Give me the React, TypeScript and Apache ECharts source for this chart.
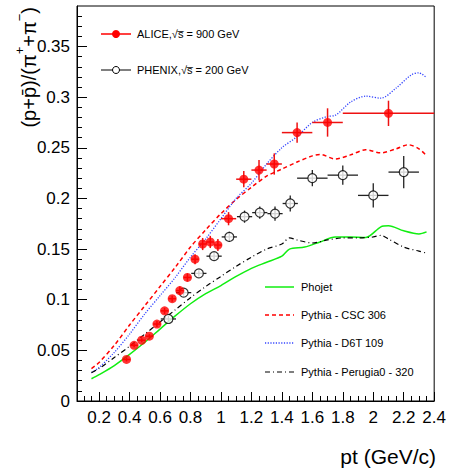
import React, { useEffect, useRef } from "react";
import * as echarts from "echarts";

// ---------- data ----------
const aliceX = [0.38, 0.43, 0.48, 0.53, 0.58, 0.63, 0.68, 0.73, 0.78, 0.83, 0.88, 0.93, 0.98, 1.05, 1.15, 1.25, 1.35, 1.5, 1.7, 2.1];
const aliceY = [0.041, 0.055, 0.06, 0.064, 0.076, 0.089, 0.101, 0.109, 0.122, 0.14, 0.155, 0.157, 0.154, 0.18, 0.219, 0.228, 0.234, 0.265, 0.275, 0.284];
const aliceXErr = [0.025, 0.025, 0.025, 0.025, 0.025, 0.025, 0.025, 0.025, 0.025, 0.025, 0.025, 0.025, 0.025, 0.05, 0.05, 0.05, 0.05, 0.1, 0.1, 0.3];
const aliceYErr = [0.002, 0.002, 0.002, 0.002, 0.003, 0.003, 0.003, 0.004, 0.004, 0.005, 0.006, 0.006, 0.006, 0.0065, 0.008, 0.01, 0.0105, 0.01, 0.014, 0.0125];

const phenixX = [0.655, 0.755, 0.855, 0.955, 1.055, 1.155, 1.255, 1.355, 1.455, 1.6, 1.8, 2.0, 2.2];
const phenixY = [0.081, 0.107, 0.126, 0.143, 0.162, 0.182, 0.186, 0.185, 0.195, 0.22, 0.223, 0.203, 0.226];
const phenixXErr = [0.05, 0.05, 0.05, 0.05, 0.05, 0.05, 0.05, 0.05, 0.05, 0.1, 0.1, 0.1, 0.1];
const phenixYErr = [0.003, 0.003, 0.003, 0.004, 0.005, 0.006, 0.006, 0.007, 0.008, 0.008, 0.0095, 0.012, 0.016];

const phojetX = [0.15, 0.2, 0.3, 0.4, 0.5, 0.6, 0.7, 0.8, 0.9, 1.0, 1.1, 1.2, 1.3, 1.4, 1.45, 1.55, 1.65, 1.75, 1.85, 1.95, 2.05, 2.1, 2.2, 2.3, 2.35];
const phojetY = [0.022, 0.026, 0.035, 0.046, 0.058, 0.071, 0.084, 0.096, 0.106, 0.114, 0.123, 0.131, 0.137, 0.143, 0.15, 0.152, 0.157, 0.162, 0.162, 0.1615, 0.172, 0.173, 0.168, 0.165, 0.167];

const cscX = [0.15, 0.2, 0.3, 0.4, 0.5, 0.6, 0.7, 0.8, 0.9, 1.0, 1.1, 1.2, 1.3, 1.4, 1.5, 1.6, 1.65, 1.75, 1.85, 1.95, 2.05, 2.15, 2.23, 2.3, 2.35];
const cscY = [0.032, 0.038, 0.055, 0.075, 0.094, 0.113, 0.132, 0.152, 0.169, 0.185, 0.199, 0.211, 0.222, 0.229, 0.236, 0.242, 0.2435, 0.239, 0.243, 0.248, 0.245, 0.249, 0.253, 0.249, 0.242];

const d6tX = [0.15, 0.2, 0.3, 0.4, 0.5, 0.6, 0.7, 0.8, 0.9, 1.0, 1.1, 1.2, 1.3, 1.4, 1.5, 1.6, 1.7, 1.75, 1.85, 1.95, 2.05, 2.15, 2.25, 2.3, 2.35];
const d6tY = [0.028, 0.033, 0.048, 0.066, 0.086, 0.104, 0.122, 0.142, 0.16, 0.18, 0.2, 0.215, 0.234, 0.25, 0.261, 0.275, 0.281, 0.282, 0.295, 0.301, 0.299, 0.309, 0.322, 0.324, 0.319];

const perugiaX = [0.15, 0.2, 0.3, 0.4, 0.5, 0.6, 0.7, 0.8, 0.9, 1.0, 1.1, 1.2, 1.3, 1.4, 1.45, 1.5, 1.6, 1.7, 1.8, 1.9, 2.0, 2.05, 2.1, 2.2, 2.3, 2.35];
const perugiaY = [0.028, 0.032, 0.043, 0.054, 0.066, 0.078, 0.09, 0.102, 0.113, 0.123, 0.133, 0.142, 0.15, 0.155, 0.161, 0.159, 0.156, 0.159, 0.161, 0.161, 0.162, 0.1635, 0.16, 0.152, 0.148, 0.146];

const xMajorTicks = [0.2, 0.4, 0.6, 0.8, 1, 1.2, 1.4, 1.6, 1.8, 2, 2.2, 2.4];
const xMinorTicks = [0.1, 0.15, 0.25, 0.3, 0.35, 0.45, 0.5, 0.55, 0.65, 0.7, 0.75, 0.85, 0.9, 0.95, 1.05, 1.1, 1.15, 1.25, 1.3, 1.35, 1.45, 1.5, 1.55, 1.65, 1.7, 1.75, 1.85, 1.9, 1.95, 2.05, 2.1, 2.15, 2.25, 2.3, 2.35];
const yMajorTicks = [0, 0.05, 0.1, 0.15, 0.2, 0.25, 0.3, 0.35];
const yMinorTicks = [0.01, 0.02, 0.03, 0.04, 0.06, 0.07, 0.08, 0.09, 0.11, 0.12, 0.13, 0.14, 0.16, 0.17, 0.18, 0.19, 0.21, 0.22, 0.23, 0.24, 0.26, 0.27, 0.28, 0.29, 0.31, 0.32, 0.33, 0.34, 0.36, 0.37, 0.38];

const FONT = "'Liberation Sans', Arial, Helvetica, sans-serif";

const zip2 = (xs: number[], ys: number[]) => xs.map((x, i) => [x, ys[i]]);
const zip4 = (xs: number[], ys: number[], ex: number[], ey: number[]) => xs.map((x, i) => [x, ys[i], ex[i], ey[i]]);

function errorRender(color: string, width: number) {
  return (params: any, api: any) => {
    const x = api.value(0), y = api.value(1), ex = api.value(2), ey = api.value(3);
    const a = api.coord([x - ex, y]);
    const b = api.coord([x + ex, y]);
    const c = api.coord([x, y - ey]);
    const d = api.coord([x, y + ey]);
    return {
      type: "group",
      children: [
        { type: "line", shape: { x1: a[0], y1: a[1], x2: b[0], y2: b[1] }, style: { stroke: color, lineWidth: width } },
        { type: "line", shape: { x1: c[0], y1: c[1], x2: d[0], y2: d[1] }, style: { stroke: color, lineWidth: width } },
      ],
    };
  };
}

export default function App() {
  const ref = useRef<HTMLDivElement>(null);
  useEffect(() => {
    if (!ref.current) return;
    const chart = echarts.init(ref.current, undefined, { renderer: "svg" });
    const lineSeries = (name: string, xs: number[], ys: number[], color: string, type: any, width: number) => ({
      name,
      type: "line",
      data: zip2(xs, ys),
      showSymbol: false,
      smooth: 0.3,
      lineStyle: { color, width, type },
      z: 2,
    });
    chart.setOption({
      animation: false,
      backgroundColor: "#fff",
      grid: { left: 77, top: 6, right: 13, bottom: 72, show: true, borderColor: "#000", borderWidth: 1, backgroundColor: "transparent" },
      xAxis: [
        {
          type: "value", min: 0.055, max: 2.4, position: "bottom",
          axisLine: { show: true, lineStyle: { color: "#000", width: 1 } },
          axisTick: { show: true, inside: true, length: 9, customValues: xMajorTicks, lineStyle: { color: "#000" } },
          axisLabel: { customValues: xMajorTicks, formatter: (v: number) => String(v), fontSize: 17, color: "#000", fontFamily: FONT, margin: 8 },
          splitLine: { show: false },
        },
        {
          type: "value", min: 0.055, max: 2.4, position: "bottom",
          axisLine: { show: false },
          axisTick: { show: true, inside: true, length: 5, customValues: xMinorTicks, lineStyle: { color: "#000" } },
          axisLabel: { show: false },
          splitLine: { show: false },
        },
      ],
      yAxis: [
        {
          type: "value", min: 0, max: 0.39, position: "left",
          axisLine: { show: true, lineStyle: { color: "#000", width: 1 } },
          axisTick: { show: true, inside: true, length: 10, customValues: yMajorTicks, lineStyle: { color: "#000" } },
          axisLabel: { customValues: yMajorTicks, formatter: (v: number) => String(v), fontSize: 17, color: "#000", fontFamily: FONT, margin: 7 },
          splitLine: { show: false },
        },
        {
          type: "value", min: 0, max: 0.39, position: "left",
          axisLine: { show: false },
          axisTick: { show: true, inside: true, length: 5, customValues: yMinorTicks, lineStyle: { color: "#000" } },
          axisLabel: { show: false },
          splitLine: { show: false },
        },
      ],
      series: [
        lineSeries("Phojet", phojetX, phojetY, "#11ee11", "solid", 1.5),
        lineSeries("Pythia - CSC 306", cscX, cscY, "#ff0000", [4, 3], 1.5),
        lineSeries("Pythia - D6T 109", d6tX, d6tY, "#3344ff", [1.2, 1.5], 1.3),
        lineSeries("Pythia - Perugia0 - 320", perugiaX, perugiaY, "#000000", [5, 3, 1, 3], 1.2),
        {
          name: "PHENIX err", type: "custom", data: zip4(phenixX, phenixY, phenixXErr, phenixYErr),
          encode: { x: 0, y: 1 }, renderItem: errorRender("#222", 1.3), clip: true, z: 3,
        },
        {
          name: "PHENIX", type: "scatter", data: zip2(phenixX, phenixY), symbol: "circle", symbolSize: 9,
          itemStyle: { color: "#fff", borderColor: "#000", borderWidth: 1.2 }, z: 4,
        },
        {
          name: "ALICE err", type: "custom", data: zip4(aliceX, aliceY, aliceXErr, aliceYErr),
          encode: { x: 0, y: 1 }, renderItem: errorRender("#ee1111", 1.5), clip: true, z: 5,
        },
        {
          name: "ALICE", type: "scatter", data: zip2(aliceX, aliceY), symbol: "circle", symbolSize: 9,
          itemStyle: { color: "#ff0000" }, z: 6,
        },
      ],
      graphic: [
        // top legend
        { type: "line", shape: { x1: 101, y1: 34, x2: 131, y2: 34 }, style: { stroke: "#ff0000", lineWidth: 1.5 } },
        { type: "circle", shape: { cx: 116, cy: 34, r: 4 }, style: { fill: "#ff0000" } },
        { type: "text", x: 137, y: 34, style: { text: "ALICE,\u221As\u0305 = 900 GeV", fontSize: 11, fontFamily: FONT, fill: "#000", verticalAlign: "middle" } },
        { type: "line", shape: { x1: 101, y1: 70, x2: 131, y2: 70 }, style: { stroke: "#000", lineWidth: 1 } },
        { type: "circle", shape: { cx: 116, cy: 70, r: 3.5 }, style: { fill: "#fff", stroke: "#000", lineWidth: 1 } },
        { type: "text", x: 137, y: 70, style: { text: "PHENIX,\u221As\u0305 = 200 GeV", fontSize: 11, fontFamily: FONT, fill: "#000", verticalAlign: "middle" } },
        // bottom legend
        { type: "line", shape: { x1: 265, y1: 287, x2: 294, y2: 287 }, style: { stroke: "#11ee11", lineWidth: 1.5 } },
        { type: "text", x: 301, y: 287, style: { text: "Phojet", fontSize: 11, fontFamily: FONT, fill: "#000", verticalAlign: "middle" } },
        { type: "line", shape: { x1: 265, y1: 315, x2: 294, y2: 315 }, style: { stroke: "#ff0000", lineWidth: 1.5, lineDash: [4, 3] } },
        { type: "text", x: 301, y: 315, style: { text: "Pythia - CSC 306", fontSize: 11, fontFamily: FONT, fill: "#000", verticalAlign: "middle" } },
        { type: "line", shape: { x1: 265, y1: 343, x2: 294, y2: 343 }, style: { stroke: "#3344ff", lineWidth: 1.3, lineDash: [1.2, 1.5] } },
        { type: "text", x: 301, y: 343, style: { text: "Pythia - D6T 109", fontSize: 11, fontFamily: FONT, fill: "#000", verticalAlign: "middle" } },
        { type: "line", shape: { x1: 265, y1: 372, x2: 294, y2: 372 }, style: { stroke: "#000", lineWidth: 1.2, lineDash: [5, 3, 1, 3] } },
        { type: "text", x: 301, y: 372, style: { text: "Pythia - Perugia0 - 320", fontSize: 11, fontFamily: FONT, fill: "#000", verticalAlign: "middle" } },
        // axis titles
        {
          type: "text", x: 436, y: 456,
          style: { text: "pt (GeV/c)", fontSize: 21, fontFamily: FONT, fill: "#000", align: "right", verticalAlign: "middle" },
        },
        {
          type: "text", x: 26, y: 7, rotation: Math.PI / 2,
          style: {
            text: "{n|(p+p\u0304)/(\u03c0}{s|+}{n|+\u03c0}{s|\u2212}{n|)}",
            align: "right", verticalAlign: "middle",
            rich: {
              n: { fontSize: 20, fontFamily: FONT, fill: "#000", lineHeight: 26, verticalAlign: "bottom" },
              s: { fontSize: 13, fontFamily: FONT, fill: "#000", lineHeight: 26, verticalAlign: "top" },
            },
          },
        },
      ],
    });
    return () => chart.dispose();
  }, []);
  return <div ref={ref} style={{ position: "fixed", left: 0, top: 0, width: 449, height: 473 }} />;
}
